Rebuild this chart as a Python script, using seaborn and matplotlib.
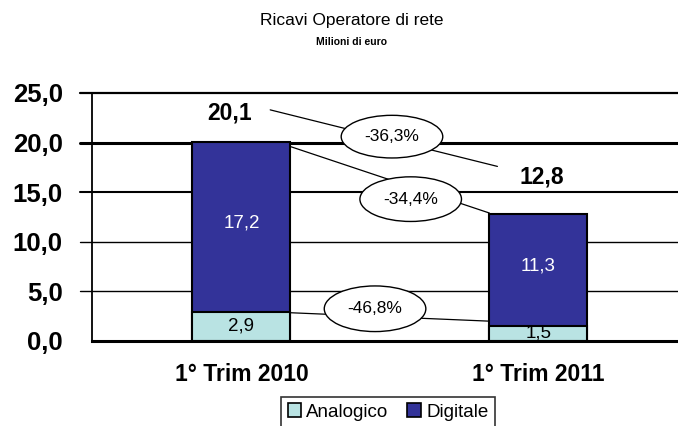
import matplotlib
matplotlib.use("Agg")
import matplotlib.pyplot as plt
from matplotlib.patches import Ellipse, Patch
import seaborn as sns
import pandas as pd

# ---- data ----
periods = ["1° Trim 2010", "1° Trim 2011"]
analogico = [2.9, 1.5]
digitale = [17.2, 11.3]
totals = [20.1, 12.8]
analog_labels = ["2,9", "1,5"]
digital_labels = ["17,2", "11,3"]
total_labels = ["20,1", "12,8"]
changes = ["-36,3%", "-34,4%", "-46,8%"]
yticks = [0, 5, 10, 15, 20, 25]
ytick_labels = ["0,0", "5,0", "10,0", "15,0", "20,0", "25,0"]

df = pd.DataFrame({"period": periods, "analogico": analogico,
                   "digitale": digitale, "totale": totals})

sns.set_style("white")
plt.rcParams["font.family"] = ["Liberation Sans", "DejaVu Sans"]
for k in ["text.color", "axes.labelcolor", "xtick.color", "ytick.color"]:
    plt.rcParams[k] = "black"

C_AN = "#B9E3E3"
C_DG = "#333399"

fig = plt.figure(figsize=(6.78, 4.26), dpi=100)
ax = fig.add_axes([92/678, 1-341/426, 1-92/678, (341-93)/426])

bw = 0.33
sns.barplot(data=df, x="period", y="totale", color=C_DG, width=bw,
            edgecolor="black", linewidth=1.5, saturation=1, ax=ax, zorder=3)
sns.barplot(data=df, x="period", y="analogico", color=C_AN, width=bw,
            edgecolor="black", linewidth=1.5, saturation=1, ax=ax, zorder=3)

ax.set_xlim(-0.503, 1.47)
ax.set_ylim(0, 25)
ax.set_yticks(yticks)
ax.set_yticklabels(ytick_labels, fontsize=18.5, fontweight="bold")
ax.set_xticks([0.5])
ax.set_xticklabels([""])
ax.set_xlabel("")
ax.set_ylabel("")
for i, p in enumerate(periods):
    ax.text(i, -3.4, p, ha="center", va="center", fontsize=16.5, fontweight="bold")

ax.tick_params(axis="y", direction="out", length=10, width=1.3, pad=11, color="black")
ax.tick_params(axis="x", direction="out", length=7, width=1.3, color="black")

for s in ["top", "right"]:
    ax.spines[s].set_visible(False)
ax.spines["left"].set_linewidth(1.3)
ax.spines["left"].set_color("black")
ax.spines["bottom"].set_linewidth(2.2)
ax.spines["bottom"].set_color("black")
ax.spines["bottom"].set_zorder(5)

grid_w = {5: 1.0, 10: 1.0, 15: 1.5, 20: 2.2, 25: 1.6}
for v, w in grid_w.items():
    ax.axhline(v, color="black", lw=w, zorder=1, xmin=-0.02, clip_on=False)

# in-bar labels
for i in range(2):
    ax.text(i, analogico[i] + digitale[i] / 2 + 0.4, digital_labels[i], ha="center",
            va="center", color="white", fontsize=13.5)
ax.text(0, 1.5, analog_labels[0], ha="center", va="center", color="black", fontsize=13.5)
ax.text(1, 0.8, analog_labels[1], ha="center", va="center", color="black", fontsize=13.5,
        zorder=4)

# total labels
ax.text(-0.04, 23.0, total_labels[0], ha="center", va="center", fontsize=16.5, fontweight="bold")
ax.text(1.01, 16.5, total_labels[1], ha="center", va="center", fontsize=16.5, fontweight="bold")

# connector lines + ellipses
def bubble(p0, p1, c, txt, h):
    ax.plot([p0[0], p1[0]], [p0[1], p1[1]], color="black", lw=0.9, zorder=6)
    e = Ellipse(c, width=0.342, height=h, facecolor="white", edgecolor="black",
                lw=1.0, zorder=7)
    ax.add_patch(e)
    ax.text(c[0], c[1], txt, ha="center", va="center", fontsize=12.5, zorder=8)

bubble((0.097, 23.3), (0.862, 17.6), (0.507, 20.6), changes[0], 4.3)
bubble((0.165, 19.6), (0.835, 12.9), (0.570, 14.3), changes[1], 4.5)
bubble((0.165, 2.85), (0.835, 2.0), (0.450, 3.25), changes[2], 4.6)

# titles
fig.text(352/678, 1-20/426, "Ricavi Operatore di rete", ha="center", va="center",
         fontsize=12.5, family=["Liberation Sans Narrow", "Liberation Sans", "DejaVu Sans"])
fig.text(352/678, 1-42/426, "Milioni di euro", ha="center", va="center",
         fontsize=7.5, fontweight="bold",
         family=["Liberation Sans Narrow", "Liberation Sans", "DejaVu Sans"])

handles = [Patch(facecolor=C_AN, edgecolor="black", lw=1.2, label="Analogico"),
           Patch(facecolor=C_DG, edgecolor="black", lw=1.2, label="Digitale")]
leg = fig.legend(handles=handles, ncol=2, loc="center", bbox_to_anchor=(388/678, 1-412/426),
                 frameon=True, fancybox=False, edgecolor="black", fontsize=13.5,
                 handlelength=0.7, handleheight=0.7, handletextpad=0.3, columnspacing=1.0,
                 borderpad=0.35)
leg.get_frame().set_linewidth(1.2)

fig.savefig("out.png", dpi=100)
